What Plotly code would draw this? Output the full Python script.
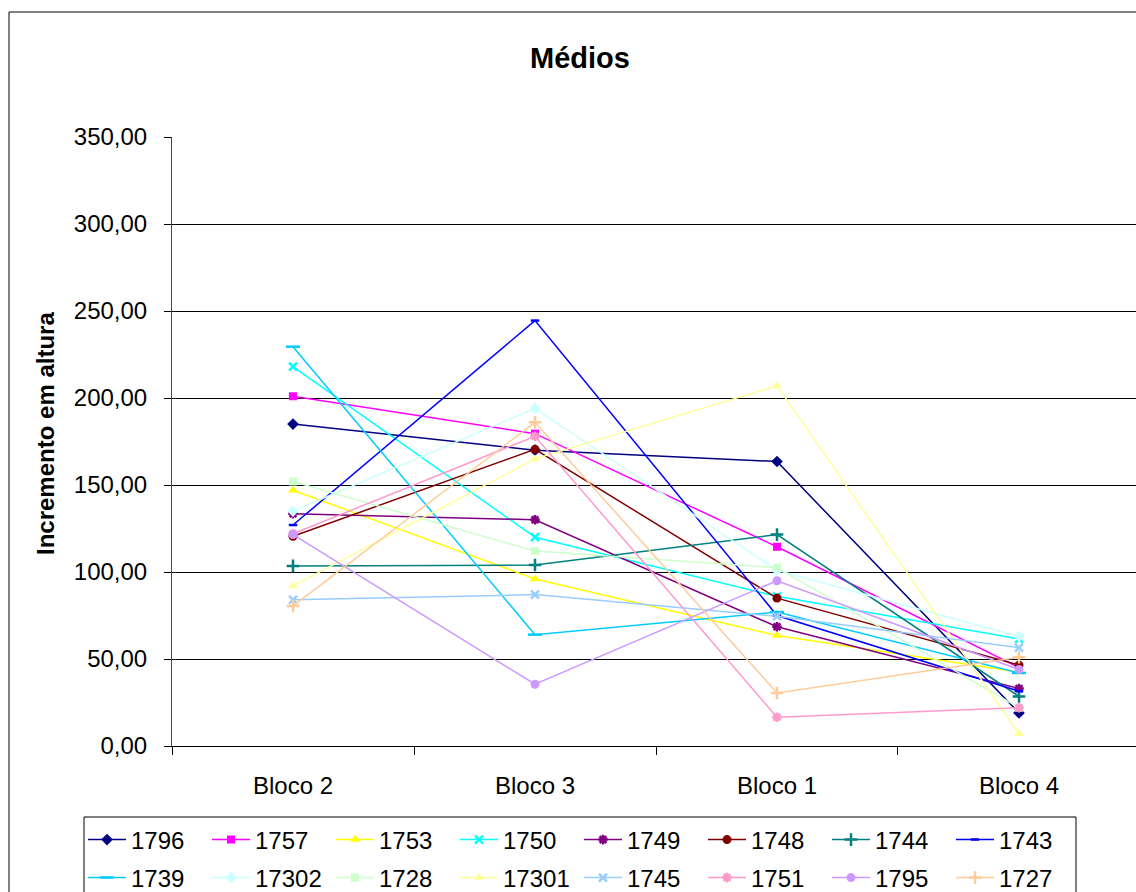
import plotly.graph_objects as go

categories = ["Bloco 2", "Bloco 3", "Bloco 1", "Bloco 4"]

s1796 = [185.0, 170.0, 163.5, 19.0]
s1757 = [201.0, 179.5, 114.5, 45.0]
s1753 = [147.0, 96.0, 63.5, 42.5]
s1750 = [218.0, 120.0, 86.0, 61.5]
s1749 = [133.5, 130.0, 68.5, 33.0]
s1748 = [120.5, 170.5, 85.0, 46.5]
s1744 = [103.5, 104.0, 121.5, 28.5]
s1743 = [127.0, 244.5, 75.0, 31.5]
s1739 = [229.5, 64.0, 77.0, 42.0]
s17302 = [135.0, 194.0, 101.0, 63.0]
s1728 = [152.0, 112.0, 102.5, 22.0]
s17301 = [92.0, 165.0, 207.0, 7.0]
s1745 = [84.0, 87.0, 74.5, 56.5]
s1751 = [122.0, 178.0, 16.5, 22.0]
s1795 = [121.5, 35.5, 95.0, 44.0]
s1727 = [80.5, 186.0, 30.5, 51.0]

series_names = ["1796", "1757", "1753", "1750", "1749", "1748", "1744", "1743",
                "1739", "17302", "1728", "17301", "1745", "1751", "1795", "1727"]
series_values = [s1796, s1757, s1753, s1750, s1749, s1748, s1744, s1743,
                 s1739, s17302, s1728, s17301, s1745, s1751, s1795, s1727]

colors = ["#000080", "#FF00FF", "#FFFF00", "#00FFFF", "#800080", "#800000", "#008080", "#0000FF",
          "#00CCFF", "#CCFFFF", "#CCFFCC", "#FFFF99", "#99CCFF", "#FF99CC", "#CC99FF", "#FFCC99"]
symbols = ["diamond", "square", "triangle-up", "x-thin-open", "asterisk-open", "circle", "cross-thin-open", "line-ew-open",
           "line-ew-open", "diamond", "square", "triangle-up", "x-thin-open", "asterisk-open", "circle", "cross-thin-open"]
sizes = [9, 8, 9, 8, 8, 9, 9, 6, 10, 9, 8, 9, 8, 8, 9, 9]

FONT = "Liberation Sans, Arial, sans-serif"
x_idx = list(range(len(categories)))

fig = go.Figure()
for i, (name, vals) in enumerate(zip(series_names, series_values)):
    c = colors[i]
    sym = symbols[i]
    open_sym = sym.endswith("-open")
    fig.add_trace(go.Scatter(
        x=x_idx, y=vals, name=name, mode="lines+markers",
        line=dict(color=c, width=1.5),
        marker=dict(symbol=sym, size=sizes[i], color=c,
                    line=dict(color=c, width=(2.5 if open_sym else 0))),
        legend="legend" if i < 8 else "legend2",
    ))

W, H = 1136, 892
L, R, T, B = 172, 0, 137, 146
pw, ph = W - L - R, H - T - B


def px(xp):
    return (xp - L) / pw


def py(yp):
    return (H - B - yp) / ph


fig.update_layout(
    width=W, height=H,
    margin=dict(l=L, r=R, t=T, b=B, autoexpand=False),
    paper_bgcolor="white", plot_bgcolor="white",
    separators=",.",
    font=dict(family=FONT, size=24, color="black"),
    title=dict(text="<b>Médios</b>", x=580 / W, xanchor="center", y=1 - 58 / H, yanchor="middle",
               font=dict(family=FONT, size=29, color="black")),
    showlegend=True,
    legend=dict(orientation="h", x=px(83), xanchor="left", y=py(840), yanchor="middle",
                entrywidth=71, entrywidthmode="pixels", itemwidth=38,
                bgcolor="rgba(0,0,0,0)", borderwidth=0, font=dict(family=FONT, size=24)),
    legend2=dict(orientation="h", x=px(83), xanchor="left", y=py(878), yanchor="middle",
                 entrywidth=71, entrywidthmode="pixels", itemwidth=38,
                 bgcolor="rgba(0,0,0,0)", borderwidth=0, font=dict(family=FONT, size=24)),
    xaxis=dict(range=[-0.5, 3.4835], tickmode="array", tickvals=x_idx, ticktext=categories,
               ticks="", showgrid=False, zeroline=False, showline=True, linecolor="black", linewidth=1,
               ticklabelstandoff=18, tickfont=dict(family=FONT, size=24),
               minor=dict(tickmode="array", tickvals=[-0.5, 0.5, 1.5, 2.5], ticks="outside",
                          ticklen=8, tickcolor="black", tickwidth=1, showgrid=False)),
    yaxis=dict(range=[0, 350], tick0=0, dtick=50, tickformat=".2f", ticks="outside", ticklen=7,
               tickcolor="black", showgrid=True, gridcolor="black", gridwidth=1, zeroline=False,
               showline=True, linecolor="#444444", linewidth=1, ticklabelstandoff=12,
               tickfont=dict(family=FONT, size=24)),
    shapes=[
        dict(type="rect", xref="paper", yref="paper", x0=px(9), y0=py(1000), x1=px(1200), y1=py(12),
             line=dict(color="black", width=1), fillcolor="rgba(0,0,0,0)", layer="below"),
        dict(type="rect", xref="paper", yref="paper", x0=px(84), y0=py(1000), x1=px(1076), y1=py(817),
             line=dict(color="black", width=1), fillcolor="rgba(0,0,0,0)", layer="below"),
    ],
    annotations=[
        dict(text="<b>Incremento em altura</b>", xref="paper", yref="paper", x=px(45), y=py(434),
             xanchor="center", yanchor="middle", textangle=-90, showarrow=False,
             font=dict(family=FONT, size=24, color="black")),
    ],
)

fig.write_html("out.html")
